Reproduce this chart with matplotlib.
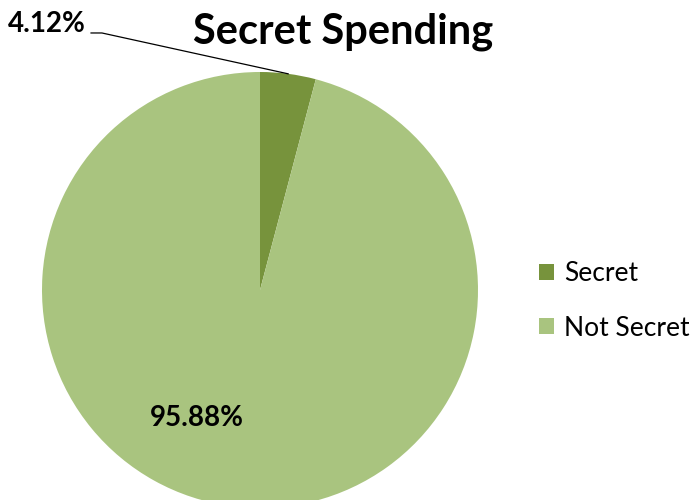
import numpy as np
import matplotlib.pyplot as plt
from matplotlib.patches import Patch

# =========================================================
# DATA
# =========================================================

labels = ["Secret", "Not Secret"]
shares = [4.12, 95.88]
colors = ["#77933C", "#A9C47F"]

plt.rcParams["font.family"] = ["Lato", "DejaVu Sans"]

# =========================================================
# PIE
# =========================================================

fig = plt.figure(figsize=(6.97, 5.0), dpi=100)

ax = fig.add_axes([42 / 697, -8 / 500, 436 / 697, 436 / 500])

wedges, _ = ax.pie(shares, colors=colors, startangle=90,
                   counterclock=False, radius=1.0)

ax.set_xlim(-1, 1)
ax.set_ylim(-1, 1)
ax.set_aspect("equal")
ax.axis("off")

# label for the small slice, with a bent leader line
w = wedges[0]
mid = np.deg2rad((w.theta1 + w.theta2) / 2)
px, py = np.cos(mid), np.sin(mid)

elbow_x, elbow_y = -0.725, 1.179
ax.plot([px, elbow_x, elbow_x - 0.05], [py, elbow_y, elbow_y],
        color="black", lw=0.9, clip_on=False)
ax.text(elbow_x - 0.075, elbow_y + 0.04, f"{shares[0]:.2f}%",
        fontsize=20, fontweight="bold", ha="right", va="center")

# label for the big slice
ax.text(-0.29, -0.585, f"{shares[1]:.2f}%", fontsize=20,
        fontweight="bold", ha="center", va="center")

# =========================================================
# TITLE AND LEGEND
# =========================================================

fig.text(343 / 697, 1 - 32 / 500, "Secret Spending", fontsize=30,
         fontweight="bold", ha="center", va="center")

handles = [Patch(facecolor=c, edgecolor="none") for c in colors]

fig.legend(handles, labels, loc="center left",
           bbox_to_anchor=(539 / 697, 1 - 301 / 500),
           frameon=False, fontsize=19, borderpad=0, borderaxespad=0,
           handlelength=0.55, handleheight=0.55, handletextpad=0.4,
           labelspacing=1.1)

plt.savefig("out.png", dpi=100)
